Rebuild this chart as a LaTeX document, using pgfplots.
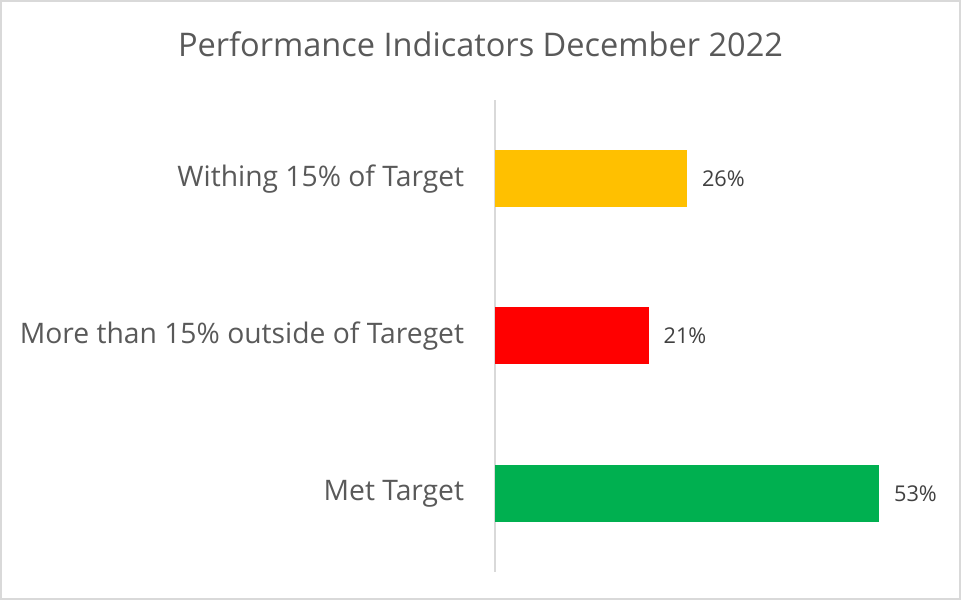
\documentclass[border=0pt]{standalone}
\usepackage{pgfplots}
\pgfplotsset{compat=1.18}
\usepackage{fontspec}
\setmainfont{Open Sans}
\definecolor{txt}{HTML}{595959}
\definecolor{lbl}{HTML}{404040}
\definecolor{grid}{HTML}{D9D9D9}
\definecolor{cy}{HTML}{FFC000}
\definecolor{cr}{HTML}{FF0000}
\definecolor{cg}{HTML}{00B050}
\begin{document}
\begin{tikzpicture}[x=1pt,y=1pt]
\path[use as bounding box] (0,0) rectangle (720.75,450);
\draw[grid, line width=1.5pt] (0.75,0.75) rectangle (720,449.25);
\node[text=txt, font=\fontsize{24.4}{28}\selectfont, anchor=center] at (360.4,417) {Performance Indicators December 2022};
\begin{axis}[
  at={(371.25pt,21pt)}, anchor=south west,
  scale only axis, width=328.5pt, height=354pt,
  xmin=0, xmax=60, ymin=-0.5, ymax=2.5,
  axis x line=none,
  axis y line*=left,
  y axis line style={grid, line width=1pt},
  ytick={0,1,2},
  yticklabels={Met Target, More than 15\% outside of Tareget, Withing 15\% of Target},
  major tick length=0pt,
  yticklabel style={text=txt, font=\fontsize{21.2}{24}\selectfont, anchor=east, inner sep=0pt, xshift=-23pt},
  xbar, bar width=42.75pt, bar shift=0pt,
  /pgf/number format/assume math mode=true,
  nodes near coords={\pgfmathprintnumber[fixed,precision=0,assume math mode=true]{\pgfplotspointmeta}\%},
  point meta=x,
  every node near coord/.style={text=lbl, font=\fontsize{16.3}{20}\selectfont, anchor=west, inner sep=0pt, xshift=11pt},
  clip=false,
]
\addplot[draw=none, fill=cg] coordinates {(52.63,0)};
\addplot[draw=none, fill=cr] coordinates {(21.05,1)};
\addplot[draw=none, fill=cy] coordinates {(26.32,2)};
\end{axis}
\end{tikzpicture}
\end{document}
